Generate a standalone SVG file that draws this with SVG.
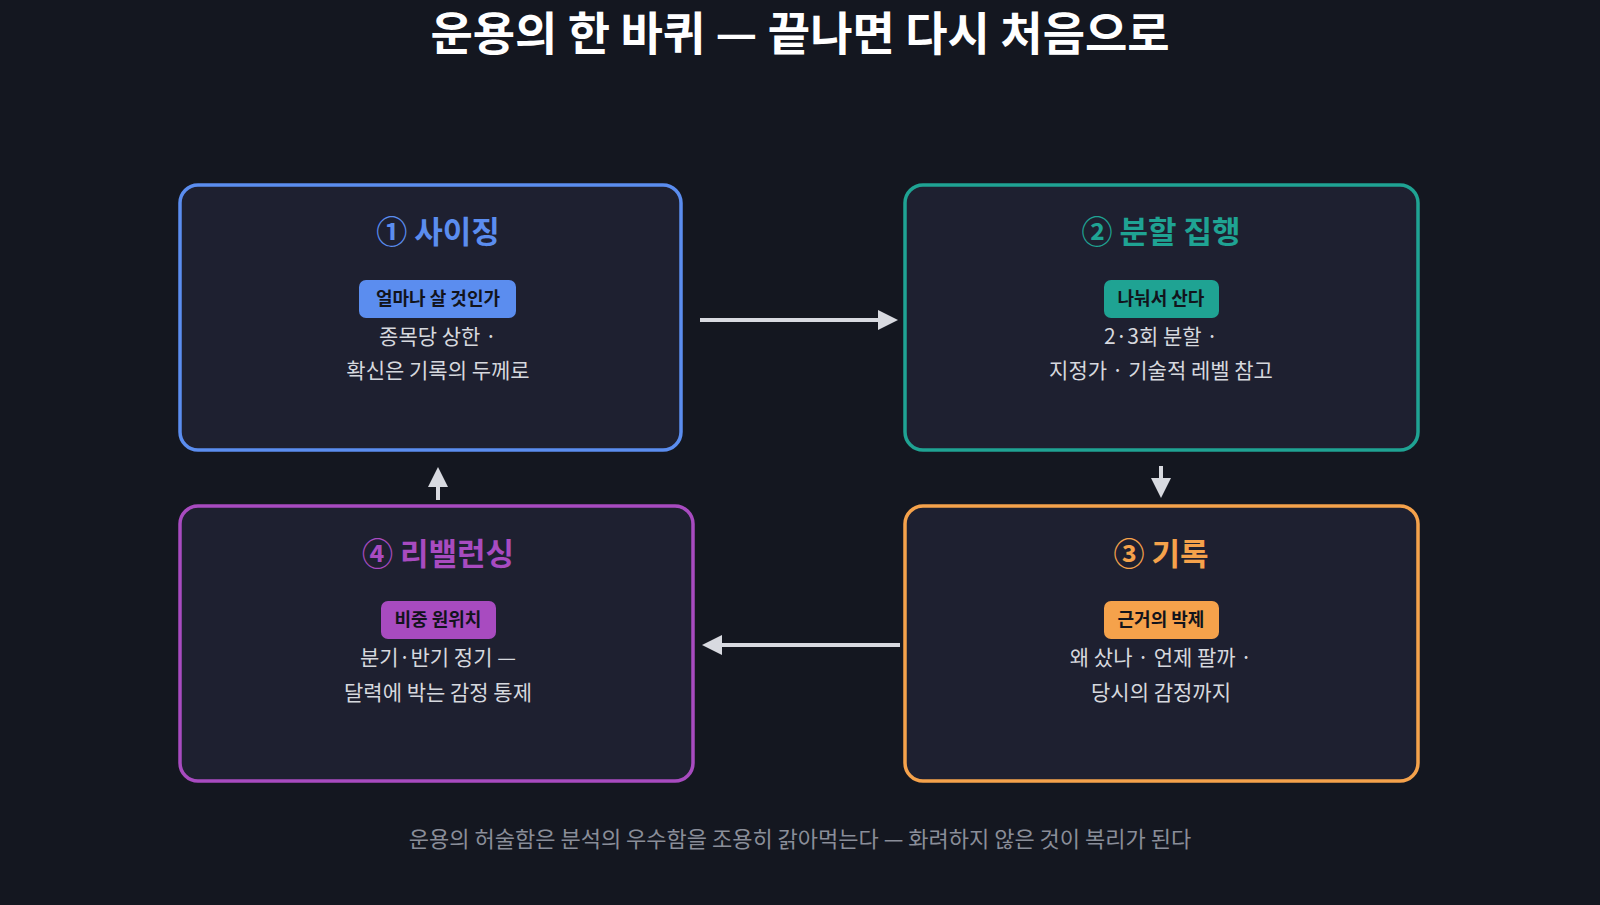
<svg xmlns="http://www.w3.org/2000/svg" width="1600" height="905" viewBox="0 0 1600 905">
<style>
.t{font-family:"Noto Sans CJK KR","Noto Sans",sans-serif}
.box{fill:#1e2030;stroke-width:3.5}
.ttl{font-size:31px;font-weight:700;text-anchor:middle}
.bd{font-size:18px;font-weight:700;text-anchor:middle;fill:#12141c}
.bo{font-size:21px;text-anchor:middle;fill:#d6d8de}
.c{stroke:#d8dae0;stroke-width:4;fill:none;marker-end:url(#a)}
</style>
<defs><marker id="a" viewBox="0 0 10 10" refX="8" refY="5" markerWidth="5" markerHeight="5" orient="auto"><path d="M0,0L10,5L0,10z" fill="#d8dae0"/></marker></defs>
<rect width="1600" height="905" fill="#141720"/>
<text class="t" x="800" y="50" font-size="46" font-weight="700" fill="#ffffff" text-anchor="middle">운용의 한 바퀴 — 끝나면 다시 처음으로</text>
<g id="n1">
<rect class="box" x="180" y="185" width="501" height="265" rx="18" stroke="#5b8def"/>
<text class="t ttl" x="438" y="243" fill="#5b8def">① 사이징</text>
<rect x="359" y="280" width="157" height="38" rx="7" fill="#5b8def"/>
<text class="t bd" x="438" y="305">얼마나 살 것인가</text>
<text class="t bo" x="438" y="344">종목당 상한 ·</text>
<text class="t bo" x="438" y="378">확신은 기록의 두께로</text>
</g>
<g id="n2">
<rect class="box" x="905" y="185" width="513" height="265" rx="18" stroke="#1fa393"/>
<text class="t ttl" x="1161" y="243" fill="#1fa393">② 분할 집행</text>
<rect x="1104" y="280" width="115" height="38" rx="7" fill="#1fa393"/>
<text class="t bd" x="1161" y="305">나눠서 산다</text>
<text class="t bo" x="1161" y="344">2·3회 분할 ·</text>
<text class="t bo" x="1161" y="378">지정가 · 기술적 레벨 참고</text>
</g>
<g id="n3">
<rect class="box" x="905" y="506" width="513" height="275" rx="18" stroke="#f5a24b"/>
<text class="t ttl" x="1161" y="565" fill="#f5a24b">③ 기록</text>
<rect x="1104" y="601" width="115" height="38" rx="7" fill="#f5a24b"/>
<text class="t bd" x="1161" y="626">근거의 박제</text>
<text class="t bo" x="1161" y="665">왜 샀나 · 언제 팔까 ·</text>
<text class="t bo" x="1161" y="700">당시의 감정까지</text>
</g>
<g id="n4">
<rect class="box" x="180" y="506" width="513" height="275" rx="18" stroke="#a84bc0"/>
<text class="t ttl" x="438" y="565" fill="#a84bc0">④ 리밸런싱</text>
<rect x="381" y="601" width="115" height="38" rx="7" fill="#a84bc0"/>
<text class="t bd" x="438" y="626">비중 원위치</text>
<text class="t bo" x="438" y="665">분기·반기 정기 —</text>
<text class="t bo" x="438" y="700">달력에 박는 감정 통제</text>
</g>
<g id="connectors">
<line class="c" x1="700" y1="320" x2="894" y2="320"/>
<line class="c" x1="1161" y1="466" x2="1161" y2="494"/>
<line class="c" x1="900" y1="645" x2="706" y2="645"/>
<line class="c" x1="438" y1="500" x2="438" y2="471"/>
</g>
<text class="t" x="800" y="847" font-size="22" fill="#8a8e99" text-anchor="middle">운용의 허술함은 분석의 우수함을 조용히 갉아먹는다 — 화려하지 않은 것이 복리가 된다</text>
</svg>
